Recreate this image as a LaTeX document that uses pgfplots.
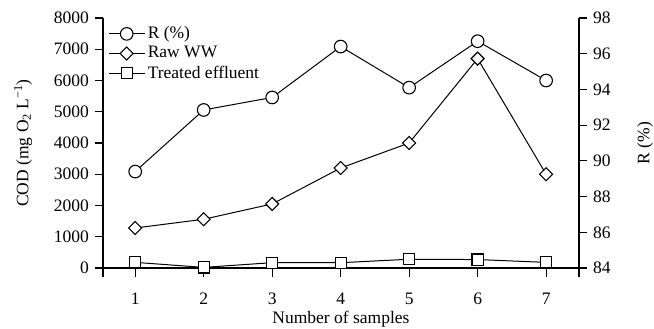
\documentclass[border=0pt]{standalone}
\usepackage{pgfplots}
\pgfplotsset{compat=1.18}
\usepackage{fontspec}
\setmainfont{Liberation Serif}

\pgfplotsset{
  common/.style={
    at={(0pt,0pt)}, anchor=south west,
    scale only axis, width=476pt, height=259pt,
    xmin=0.53, xmax=7.48,
    axis line style={line width=1.2pt, black},
    tick style={line width=1.2pt, black},
    major tick length=8pt,
    /pgf/number format/assume math mode=true,
    /pgf/number format/1000 sep={},
    scaled y ticks=false,
    clip=false,
  },
  rstyle/.style={black, line width=1pt, mark=*, mark size=6.3pt, mark options={solid, fill=white, line width=1.1pt}},
  wstyle/.style={black, line width=1pt, mark=square*, mark size=4.6pt, mark options={solid, fill=white, rotate=45, line width=1.1pt}},
  tstyle/.style={black, line width=1pt, mark=square*, mark size=5.6pt, mark options={solid, fill=white, line width=1.1pt}},
}

\begin{document}
\fontsize{17.5}{21}\selectfont
\begin{tikzpicture}
\useasboundingbox (-103pt,-52pt) rectangle (551pt,277pt);
\begin{axis}[
  common,
  ymin=-288, ymax=8000,
  axis y line*=left, axis x line*=bottom,
  x axis line style={draw=none},
  xtick={1,2,3,4,5,6,7},
  xtick align=inside,
  xticklabel style={yshift=-10pt},
  ytick={0,1000,2000,3000,4000,5000,6000,7000,8000},
  ytick align=outside,
  extra y ticks={0},
  extra y tick labels={},
  extra y tick style={ymajorgrids=true, major grid style={black, line width=1.2pt}},
  xlabel={Number of samples},
  xlabel style={at={(axis description cs:0.5,-0.163)}, anchor=center},
  ylabel={COD (mg O\textsubscript{2} L\textsuperscript{−1})},
  ylabel style={at={(axis description cs:-0.168,0.517)}, anchor=center, rotate=0},
  legend style={draw=none, fill=none, at={(axis description cs:0.0105,0.978)}, anchor=north west,
    inner sep=0pt, row sep=0pt, nodes={inner sep=2.6pt}, legend cell align=left},
  legend image code/.code={\draw[mark repeat=2,mark phase=2,#1] plot coordinates {(0pt,0pt) (18pt,0pt) (36pt,0pt)};},
]
\addlegendimage{rstyle}
\addlegendentry{R (\%)}
\addplot[wstyle] coordinates {(1,1280) (2,1560) (3,2050) (4,3200) (5,4000) (6,6700) (7,3000)};
\addlegendentry{Raw WW}
\addplot[tstyle] coordinates {(1,180) (2,20) (3,170) (4,170) (5,280) (6,270) (7,180)};
\addlegendentry{Treated effluent}
\end{axis}
\begin{axis}[
  common,
  ymin=83.496, ymax=98,
  axis y line*=right, axis x line=none,
  ytick={84,86,88,90,92,94,96,98},
  ytick align=outside,
  ylabel={R (\%)},
  ylabel style={at={(axis description cs:1.139,0.517)}, anchor=center},
]
\addplot[rstyle] coordinates {(1,89.4) (2,92.85) (3,93.55) (4,96.4) (5,94.1) (6,96.7) (7,94.5)};
\end{axis}
\end{tikzpicture}
\end{document}
